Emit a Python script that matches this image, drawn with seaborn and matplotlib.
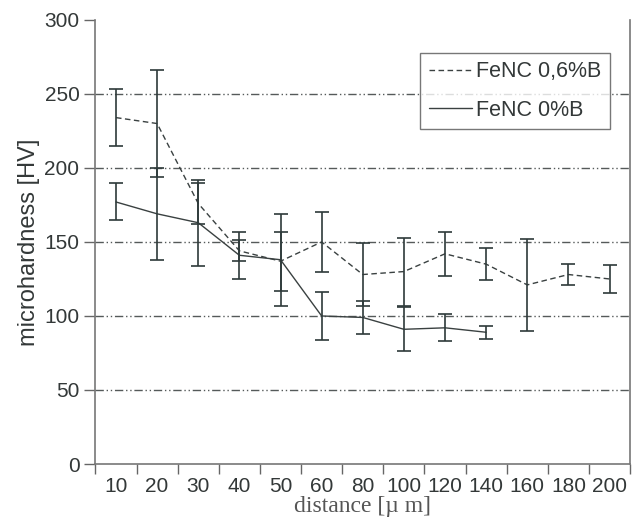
import numpy as np
import pandas as pd
import seaborn as sns
import matplotlib.pyplot as plt

# distance categories (um)
distance = ['10', '20', '30', '40', '50', '60', '80', '100', '120', '140', '160', '180', '200']

# FeNC 0,6%B
b06_hv = [234, 230, 176, 144, 137, 150, 128, 130, 142, 135, 121, 128, 125]
b06_err = [19, 36, 14, 7, 20, 20, 21, 23, 15, 11, 31, 7, 9.5]

# FeNC 0%B (measured up to 140 um)
b0_hv = [177, 169, 163, 141, 138, 100, 99, 91, 92, 89]
b0_err = [12.5, 31, 29, 16, 31, 16, 11, 15, 9, 4.5]

sns.set_style('white')
plt.rcParams['font.family'] = ['Liberation Sans', 'DejaVu Sans']

line_col = '#3a4141'
bar_col = '#2e3a3a'
text_col = '#333838'

df06 = pd.DataFrame({'pos': np.arange(len(b06_hv)), 'hv': b06_hv, 'err': b06_err})
df0 = pd.DataFrame({'pos': np.arange(len(b0_hv)), 'hv': b0_hv, 'err': b0_err})

fig = plt.figure(figsize=(6.32, 5.24), dpi=100)
ax = fig.add_axes([0.151, 0.1145, 0.846, 0.8475])

sns.lineplot(data=df06, x='pos', y='hv', ax=ax, color=line_col, lw=1,
             linestyle=(0, (4, 2.5)), label='FeNC 0,6%B')
sns.lineplot(data=df0, x='pos', y='hv', ax=ax, color=line_col, lw=1,
             label='FeNC 0%B')

ax.errorbar(df06['pos'], df06['hv'], yerr=df06['err'], fmt='none',
            ecolor=bar_col, elinewidth=1.2, capsize=4.8, capthick=1.2)
ax.errorbar(df0['pos'], df0['hv'], yerr=df0['err'], fmt='none',
            ecolor=bar_col, elinewidth=1.2, capsize=4.8, capthick=1.2)

ax.set_ylim(0, 300)
ax.set_xlim(-0.5, len(distance) - 0.5)
ax.set_yticks(range(0, 301, 50))
for yv in range(50, 300, 50):
    ax.axhline(yv, color='#555a5a', lw=1, linestyle=(0, (6, 2, 1, 2, 1, 2)), zorder=0)

ax.set_xticks(np.arange(len(distance) + 1) - 0.5)
ax.set_xticklabels([])
ax.set_xticks(np.arange(len(distance)), minor=True)
ax.set_xticklabels(distance, minor=True)
ax.tick_params(axis='x', which='major', bottom=True, direction='out', length=7, width=1, color='#666')
ax.tick_params(axis='x', which='minor', bottom=False, length=0, pad=9, labelsize=15, labelcolor=text_col)
ax.tick_params(axis='y', left=True, direction='out', length=8, width=1, color='#666',
               labelsize=15, labelcolor=text_col)

for s in ['left', 'bottom', 'right']:
    ax.spines[s].set_color('#777')
    ax.spines[s].set_linewidth(1.2)
ax.spines['top'].set_visible(False)

ax.set_ylabel('microhardness [HV]', fontsize=17, color=text_col, labelpad=3)
ax.set_xlabel('distance [\u00b5 m]', fontsize=17, color='#555', family='Liberation Serif', labelpad=0)

leg = ax.legend(loc='upper right', bbox_to_anchor=(0.962, 0.926), frameon=True,
                fancybox=False, edgecolor='#555', fontsize=15.5, handlelength=2.0,
                handletextpad=0.2, borderpad=0.4, labelspacing=0.8, borderaxespad=0)
leg.get_frame().set_linewidth(1)
for t in leg.get_texts():
    t.set_color(text_col)

fig.savefig('out.png', dpi=100)
